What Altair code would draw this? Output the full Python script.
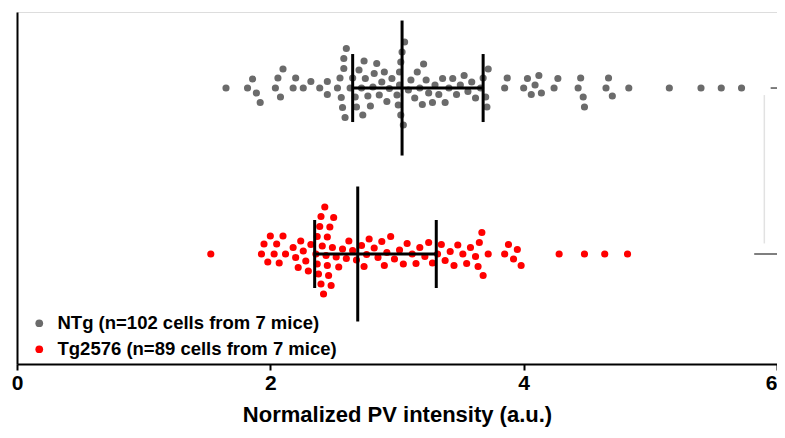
import altair as alt
import pandas as pd
import numpy as np

# ---------------- data ----------------
groups = ["NTg (n=102 cells from 7 mice)", "Tg2576 (n=89 cells from 7 mice)"]

ntg_values = [
    1.65,
    1.82, 1.86, 1.89, 1.92, 2.04, 2.06, 2.08, 2.10, 2.18, 2.20, 2.26, 2.32, 2.39, 2.45, 2.45,
    2.53, 2.55, 2.56, 2.57, 2.58, 2.58, 2.59, 2.60,
    2.63, 2.65, 2.67, 2.68, 2.70, 2.72, 2.73, 2.74, 2.75, 2.77, 2.79, 2.81, 2.82, 2.84,
    2.86, 2.88, 2.90, 2.92, 2.94, 2.96,
    3.00, 3.01, 3.02, 3.02, 3.03, 3.03, 3.04, 3.05, 3.06,
    3.09, 3.11, 3.14, 3.16, 3.18, 3.20, 3.21, 3.23, 3.25, 3.28, 3.30, 3.33, 3.36, 3.38,
    3.41, 3.44, 3.47, 3.50, 3.53, 3.56, 3.59, 3.62,
    3.66, 3.68, 3.70, 3.71, 3.72,
    3.85, 3.87, 4.00, 4.03, 4.06, 4.09, 4.12, 4.14, 4.24, 4.27,
    4.43, 4.45, 4.47, 4.48, 4.65, 4.67, 4.70,
    4.83, 5.15, 5.40, 5.56, 5.72,
]

tg_values = [
    1.53,
    1.93, 1.95, 1.98, 2.00, 2.03, 2.05, 2.07, 2.10, 2.12,
    2.18, 2.20, 2.22, 2.24, 2.26, 2.28, 2.30, 2.32,
    2.36, 2.37, 2.37, 2.38, 2.39, 2.40, 2.40, 2.41, 2.42, 2.43, 2.44, 2.45, 2.45,
    2.46, 2.47, 2.48, 2.49, 2.50, 2.52, 2.54,
    2.57, 2.60, 2.62, 2.65, 2.68,
    2.72, 2.74, 2.76, 2.78, 2.82, 2.85, 2.88, 2.90, 2.92, 2.95, 2.98,
    3.02, 3.05, 3.08, 3.12, 3.15, 3.18, 3.22, 3.25, 3.28,
    3.32, 3.35, 3.38, 3.42, 3.45, 3.48, 3.52, 3.55, 3.58, 3.62, 3.64, 3.65, 3.67, 3.68,
    3.72,
    3.85, 3.88, 3.92, 3.95,
    3.98,
    4.28, 4.48, 4.64, 4.82,
]

centers = [3.04, 2.69]      # vertical (central) line
iqr_low = [2.65, 2.35]      # left end of horizontal bar
iqr_high = [3.68, 3.31]     # right end of horizontal bar
colors = ["#6b6b6b", "#ff0000"]
x_ticks = [0, 2, 4, 6]

# ---------------- layout ----------------
W, H = 760, 352
X_MAX = 6
row_y = [0.784, 0.3125]
center_half = 67.5 / H
cap_half = 34.0 / H
DIAM = 8.0          # drawn dot diameter (px)
SPACING = 10.0      # swarm spacing between dot centres (px)
FONT = "Arial, Liberation Sans, sans-serif"


def swarm(values, diam_px, ppu):
    vals = np.asarray(values, dtype=float)
    order = np.argsort(vals, kind="stable")
    placed = []
    offs = np.zeros(len(vals))
    cands = [0.0]
    for k in range(1, 400):
        cands += [k * 0.5, -k * 0.5]
    for i in order:
        xp = vals[i] * ppu
        near = [(px, py) for px, py in placed if abs(px - xp) < diam_px]
        best = 0.0
        for c in cands:
            if all((px - xp) ** 2 + (py - c) ** 2 >= diam_px ** 2 for px, py in near):
                best = c
                break
        placed.append((xp, best))
        offs[i] = best
    return offs


ppu = W / X_MAX
rows = []
for g, vals, yc in zip(groups, [ntg_values, tg_values], row_y):
    offs = swarm(vals, SPACING, ppu)
    for v, o in zip(vals, offs):
        rows.append({"group": g, "value": v, "y": yc + o / H})
pts = pd.DataFrame(rows)

vert = []
horiz = []
for g, c, lo, hi, yc in zip(groups, centers, iqr_low, iqr_high, row_y):
    vert.append({"x": c, "y": yc + center_half, "y2": yc - center_half})
    vert.append({"x": lo, "y": yc + cap_half, "y2": yc - cap_half})
    vert.append({"x": hi, "y": yc + cap_half, "y2": yc - cap_half})
    horiz.append({"x": lo, "x2": hi, "y": yc})
vert = pd.DataFrame(vert)
horiz = pd.DataFrame(horiz)

bracket_h = pd.DataFrame([
    {"x": 5.95, "x2": 6.1, "y": row_y[0]},
    {"x": 5.82, "x2": 6.1, "y": row_y[1]},
])
bracket_v = pd.DataFrame([{"x": 5.9, "y": row_y[0] - 0.02, "y2": row_y[1] + 0.03}])

xscale = alt.Scale(domain=[0, X_MAX], nice=False, zero=False)
yscale = alt.Scale(domain=[0, 1], nice=False, zero=False)

x_axis = alt.Axis(
    values=x_ticks, format="d", grid=False, labelFlush=False,
    labelAlign={"condition": {"test": f"datum.value >= {X_MAX}", "value": "right"},
                "value": "center"},
    labelFont=FONT, labelFontSize=21, labelFontWeight="bold", labelColor="black",
    labelPadding=2, tickSize=6, tickWidth=2, tickColor="black",
    domainColor="black", domainWidth=2,
    title="Normalized PV intensity (a.u.)", titleFont=FONT, titleFontSize=22,
    titleFontWeight="bold", titleColor="black", titlePadding=11,
)
y_axis = alt.Axis(labels=False, ticks=False, grid=False, title=None,
                  domainColor="black", domainWidth=2)

points = alt.Chart(pts).mark_circle(size=DIAM * DIAM * 0.8, opacity=1).encode(
    x=alt.X("value:Q", scale=xscale, axis=x_axis),
    y=alt.Y("y:Q", scale=yscale, axis=y_axis),
    color=alt.Color(
        "group:N",
        scale=alt.Scale(domain=groups, range=colors),
        legend=alt.Legend(
            title=None, orient="none", legendX=13, legendY=302,
            symbolType="circle", symbolSize=60, symbolStrokeWidth=0,
            labelFont=FONT, labelFontSize=18.5, labelFontWeight="bold",
            labelColor="black", labelOffset=9, rowPadding=7, padding=0,
            labelLimit=400,
        ),
    ),
)

vrules = alt.Chart(vert).mark_rule(color="black", strokeWidth=3).encode(
    x=alt.X("x:Q", scale=xscale), y=alt.Y("y:Q", scale=yscale), y2="y2:Q"
)
hrules = alt.Chart(horiz).mark_rule(color="black", strokeWidth=3).encode(
    x=alt.X("x:Q", scale=xscale), x2="x2:Q", y=alt.Y("y:Q", scale=yscale)
)
br_h = alt.Chart(bracket_h).mark_rule(color="#555555", strokeWidth=1.5).encode(
    x=alt.X("x:Q", scale=xscale), x2="x2:Q", y=alt.Y("y:Q", scale=yscale)
)
br_v = alt.Chart(bracket_v).mark_rule(color="#e2e2e2", strokeWidth=1.5).encode(
    x=alt.X("x:Q", scale=xscale), y=alt.Y("y:Q", scale=yscale), y2="y2:Q"
)

chart = alt.layer(points, vrules, hrules, br_h, br_v).properties(
    width=W, height=H,
    autosize=alt.AutoSizeParams(type="none"),
    padding={"left": 9, "top": 4, "right": 0, "bottom": 64},
).configure_view(stroke=None).configure(background="white")

chart.save("out.html", embed_options={"renderer": "svg", "actions": False})
